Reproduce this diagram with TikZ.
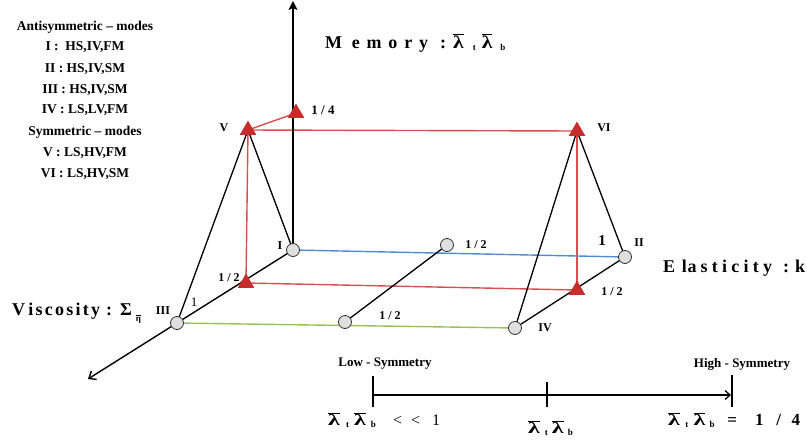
\documentclass[tikz,border=0pt]{standalone}
\usepackage{fontspec}
\setmainfont{Liberation Serif}
\usetikzlibrary{arrows.meta,shapes.geometric}
\definecolor{tred}{RGB}{200,45,45}
\definecolor{lred}{RGB}{215,80,80}
\definecolor{lblue}{RGB}{80,140,210}
\definecolor{lgreen}{RGB}{150,195,80}
\pgfdeclarelayer{bg}
\pgfsetlayers{bg,main}
\newcommand\lam[1][1.4]{$\overline{\mbox{\scalebox{#1}[1]{λ}}}$}
\newcommand\sbs[1]{\raisebox{-0.3ex}{\fontsize{9}{9}\selectfont #1}}
\newcommand\fl[1]{\hspace{0pt plus #1fill}}
\begin{document}
\begin{tikzpicture}[x=1pt,y=-1pt,
  pt/.style={circle,draw=black!80,line width=0.8pt,fill=gray!25,inner sep=0pt,minimum size=13pt},
  tri/.style={regular polygon,regular polygon sides=3,fill=tred,inner sep=0pt,minimum size=19pt},
  bk/.style={line width=1.3pt},
  rl/.style={draw=lred,line width=1.4pt},
  ax/.style={line width=1.4pt,-{Straight Barb[length=6pt,width=10pt,line width=1.4pt]}},
  axz/.style={line width=1.4pt,-{Stealth[length=9pt,width=9pt,inset=2pt]}},
  leg/.style={font=\fontsize{13.5}{14}\selectfont\bfseries},
  lab/.style={font=\fontsize{12}{12}\selectfont\bfseries},
  big/.style={font=\fontsize{18}{18}\selectfont\bfseries},
  sym/.style={font=\fontsize{13}{13}\selectfont\bfseries},
  scl/.style={font=\fontsize{16}{16}\selectfont}]
\useasboundingbox (0,0) rectangle (807,440);
% legend
\node[leg] (l1) at (85,27) {Antisymmetric -- modes};
\node[leg] (l2) at (85,47) {I :\ \ HS,IV,FM};
\node[leg] (l3) at (85,69) {II : HS,IV,SM};
\node[leg] (l4) at (85,90) {III : HS,IV,SM};
\node[leg] (l5) at (85,110) {IV : LS,LV,FM};
\node[leg] (l6) at (85,132) {Symmetric -- modes};
\node[leg] (l7) at (85,153) {V : LS,HV,FM};
\node[leg] (l8) at (85,174) {VI : LS,HV,SM};
% points
\node[pt] (I) at (293,250) {};
\node[pt] (M1) at (447,245) {};
\node[pt] (II) at (625,257) {};
\node[pt] (III) at (177,323) {};
\node[pt] (M2) at (345,322) {};
\node[pt] (IV) at (515,328) {};
\node[tri] (T) at (296,113) {};
\node[tri] (V) at (248,130) {};
\node[tri] (VI) at (577,131) {};
\node[tri] (LL) at (246,283) {};
\node[tri] (LR) at (577,290) {};
\coordinate (ztip) at (293,1);
\coordinate (xtip) at (88,379);
\begin{pgfonlayer}{bg}
\draw[rl] (V.center) -- (T.center);
\draw[rl] (V.center) -- (VI.center);
\draw[rl] (V.center) -- (LL.center);
\draw[rl] (VI.center) -- (LR.center);
\draw[rl] (LL.center) -- (LR.center);
\draw[draw=lblue,line width=1.4pt] (I.center) -- (II.center);
\draw[draw=lgreen,line width=1.4pt] (III.center) -- (IV.center);
\draw[bk] (V.center) -- (III.center);
\draw[bk] (V.center) -- (I.center);
\draw[bk] (VI.center) -- (II.center);
\draw[bk] (VI.center) -- (IV.center);
\draw[bk] (M1.center) -- (M2.center);
\draw[bk] (II.center) -- (IV.center);
\draw[axz] (I.center) -- (ztip);
\draw[ax] (I.center) -- (xtip);
\end{pgfonlayer}
% point labels
\node[lab] (lI) at (280,246) {I};
\node[lab] (lII) at (639,243) {II};
\node[lab] (lIII) at (163,311) {III};
\node[lab] (lIV) at (545,328) {IV};
\node[lab] (lV) at (224,128) {V};
\node[lab] (lVI) at (604,128) {VI};
\node[font=\fontsize{13}{13}\selectfont\bfseries] (q14) at (323,110) {1 / 4};
\node[lab] (h1) at (476,245) {1 / 2};
\node[lab] (h2) at (229,278) {1 / 2};
\node[lab] (h3) at (390,316) {1 / 2};
\node[lab] (h4) at (612,292) {1 / 2};
\node[font=\fontsize{13}{13}\selectfont] (o1) at (194,302) {1};
\node[font=\fontsize{15}{15}\selectfont\bfseries] (o2) at (602,241) {1};
% axis titles
\node[big,anchor=west,inner sep=0pt] (mem) at (325,43) {\makebox[103pt][s]{M\fl{1.4}e\fl1m\fl1o\fl1r\fl1y}\hspace{12pt}:\hspace{7pt}\lam[1.2]\hspace{9pt}\sbs{t}\hspace{6pt}\lam[1.2]\hspace{8pt}\sbs{b}};
\node[big,anchor=west,inner sep=0pt] (ela) at (663,268) {\makebox[109pt][s]{E\fl{1.6}l\hspace{0.5pt}a\fl1s\fl1t\fl1i\fl1c\fl1i\fl1t\fl1y}\hspace{11pt}:\hspace{6pt}k};
\node[big,anchor=west,inner sep=0pt] (vis) at (12,313) {\makebox[88pt][s]{V\fl{1.4}i\fl1s\fl1c\fl1o\fl1s\fl1i\fl1t\fl1y}\hspace{6pt}:\hspace{8pt}Σ\hspace{4pt}\raisebox{-0.7ex}{\fontsize{9}{9}\selectfont$\overline{\mbox{η}}$}};
% scale
\coordinate (sL) at (373,395);
\coordinate (sR) at (731,395);
\coordinate (tLa) at (373,376); \coordinate (tLb) at (373,407);
\coordinate (tMa) at (547,382); \coordinate (tMb) at (547,407);
\coordinate (tRa) at (732,375); \coordinate (tRb) at (732,407);
\draw[line width=1.3pt,-{Straight Barb[length=5pt,width=9pt,line width=1.3pt]}] (sL) -- (sR);
\draw[line width=1.3pt] (tLa) -- (tLb);
\draw[line width=1.3pt] (tMa) -- (tMb);
\draw[line width=1.3pt] (tRa) -- (tRb);
\node[sym] (low) at (385,364) {Low - Symmetry};
\node[sym] (high) at (742,364) {High - Symmetry};
\node[scl,anchor=west,inner sep=0pt] (s1) at (328,420) {\makebox[112pt][s]{\bfseries\lam[1.5]\fl{1.2}\sbs{t}\fl1\lam[1.5]\fl1\sbs{b}\fl{3.4}\mdseries<\fl{1.8}<\fl{2.4}1}};
\node[scl,anchor=west,inner sep=0pt] (s2) at (528,428) {\bfseries\lam[1.5]\hspace{5pt}\sbs{t}\hspace{4pt}\lam[1.5]\hspace{4pt}\sbs{b}};
\node[scl,anchor=west,inner sep=0pt] (s3) at (668,420) {\makebox[132pt][s]{\bfseries\lam[1.5]\fl{1}\sbs{t}\fl{1}\lam[1.5]\fl{0.8}\sbs{b}\fl{2.4}\fontsize{17}{17}\selectfont=\fl{3.4}1\fl{2.4}/\fl{2}4}};
\end{tikzpicture}
\end{document}
